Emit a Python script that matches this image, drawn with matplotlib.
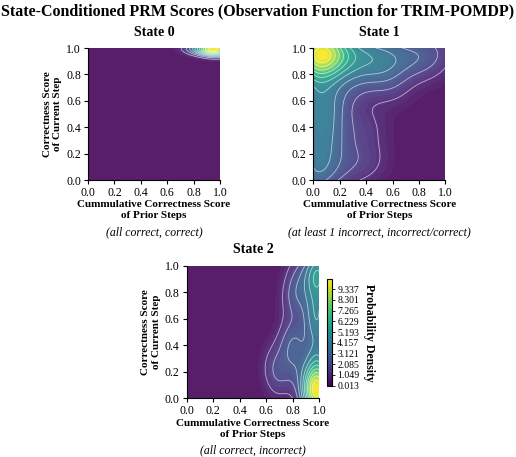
import numpy as np
import matplotlib
matplotlib.use("Agg")
import matplotlib.pyplot as plt
from matplotlib.colors import Normalize, ListedColormap
from matplotlib.cm import ScalarMappable

plt.rcParams["font.family"] = ["Liberation Serif", "DejaVu Serif"]

# observed (prior cumulative score, current step score) pairs per state
state0_x = [1.00, 0.99, 0.98, 0.97, 0.96, 0.95, 0.93, 0.91, 0.88, 0.85, 0.80, 0.99, 0.97, 0.94]
state0_y = [1.00, 0.99, 1.00, 0.98, 1.00, 0.99, 1.00, 0.99, 1.00, 0.99, 1.00, 0.96, 0.97, 0.98]

state1_x = [0.00, 0.02, 0.05, 0.00, 0.08, 0.03, 0.10, 0.00, 0.04, 0.06,
            0.14, 0.20, 0.26, 0.33, 0.40, 0.48, 0.56, 0.65, 0.75, 0.85, 0.94, 0.22,
            0.02, 0.05, 0.00, 0.04, 0.01, 0.06, 0.03, 0.00, 0.07, 0.02, 0.04, 0.00,
            0.20, 0.35, 0.18, 0.25, 0.50, 0.15,
            0.40, 0.42, 0.60]
state1_y = [1.00, 0.98, 1.00, 0.95, 0.97, 0.92, 1.00, 0.90, 0.99, 0.94,
            0.97, 0.93, 0.99, 0.95, 0.97, 0.93, 0.96, 0.92, 0.95, 0.90, 0.99, 0.86,
            0.82, 0.74, 0.66, 0.58, 0.50, 0.42, 0.34, 0.26, 0.18, 0.10, 0.03, 0.00,
            0.65, 0.75, 0.30, 0.10, 0.82, 0.50,
            0.40, 0.15, 0.72]

state2_x = [1.00, 0.98, 0.99, 0.96, 1.00, 0.97, 0.94, 1.00, 0.99, 0.95, 1.00, 0.98,
            0.99, 0.97, 1.00, 0.98, 0.96, 1.00, 0.97, 1.00, 0.98, 1.00, 0.99, 1.00, 1.00,
            0.83, 0.82, 0.84, 0.85, 0.82,
            0.70, 0.76, 0.66, 0.80]
state2_y = [0.00, 0.02, 0.05, 0.00, 0.08, 0.10, 0.03, 0.15, 0.01, 0.06, 0.20, 0.12,
            0.25, 0.35, 0.45, 0.55, 0.65, 0.70, 0.80, 0.88, 0.97, 1.00, 0.93, 0.60, 0.96,
            0.20, 0.50, 0.80, 0.95, 0.35,
            0.15, 0.40, 0.25, 0.75]

bandwidths = [(0.08, 0.03), (0.12, 0.12), (0.07, 0.12)]

titles = ["State 0", "State 1", "State 2"]
captions = ["(all correct, correct)",
            "(at least 1 incorrect, incorrect/correct)",
            "(all correct, incorrect)"]

cbar_ticks = [0.013, 1.049, 2.085, 3.121, 4.157, 5.193, 6.229, 7.265, 8.301, 9.337]
cbar_max = 10.3

# viridis slightly washed out, as in the reference
soft = ListedColormap(plt.cm.viridis(np.linspace(0, 1, 256))[:, :3] * 0.9 + 0.1)


def kde_grid(xs, ys, bw, n=200):
    g = np.linspace(0, 1, n)
    gx, gy = np.meshgrid(g, g)
    xs = np.asarray(xs)[:, None, None]
    ys = np.asarray(ys)[:, None, None]
    hx, hy = bw
    k = np.exp(-0.5 * (((gx - xs) / hx) ** 2 + ((gy - ys) / hy) ** 2))
    dens = k.sum(axis=0) / (len(xs) * 2 * np.pi * hx * hy)
    return gx, gy, dens


fig = plt.figure(figsize=(5.16, 4.57), dpi=100)
positions = [[0.1705, 0.6061, 0.2558, 0.2888],
             [0.6072, 0.6061, 0.2558, 0.2888],
             [0.3618, 0.1284, 0.2568, 0.2900]]
data = [(state0_x, state0_y), (state1_x, state1_y), (state2_x, state2_y)]

for i in range(3):
    ax = fig.add_axes(positions[i])
    gx, gy, d = kde_grid(data[i][0], data[i][1], bandwidths[i])
    lo, hi = d.min(), d.max()
    ax.contourf(gx, gy, d, levels=np.linspace(lo, hi, 40), cmap=soft)
    ax.contour(gx, gy, d, levels=np.linspace(lo, hi, 13)[1:-1],
               colors="white", linewidths=0.6, alpha=0.6)
    ax.set_xlim(0, 1)
    ax.set_ylim(0, 1)
    ax.set_xticks(np.arange(0, 1.01, 0.2))
    ax.set_yticks(np.arange(0, 1.01, 0.2))
    ax.tick_params(labelsize=8.5, length=3, width=0.8, pad=2)
    for s in ["top", "right"]:
        ax.spines[s].set_visible(False)
    ax.set_title(titles[i], fontsize=10, fontweight="bold", pad=9)
    ax.set_xlabel("Cummulative Correctness Score\nof Prior Steps",
                  fontsize=8, fontweight="bold", labelpad=1, linespacing=1.3)
    if i != 1:
        ax.set_ylabel("Correctness Score\nof Current Step",
                      fontsize=8, fontweight="bold", labelpad=3, linespacing=1.2)
    ax.text(0.5, -0.35, captions[i], transform=ax.transAxes, ha="center",
            va="top", fontsize=8.5, style="italic")

cax = fig.add_axes([0.6343, 0.156, 0.0097, 0.2328])
sm = ScalarMappable(norm=Normalize(vmin=0.013, vmax=cbar_max), cmap="viridis")
cb = fig.colorbar(sm, cax=cax, ticks=cbar_ticks)
cb.ax.set_yticklabels([f"{t:.3f}" for t in cbar_ticks])
cb.ax.tick_params(labelsize=7, length=2.5, width=0.6, pad=1)
cb.set_label("Probability Density", fontsize=8.5, fontweight="bold",
             rotation=270, labelpad=11)

fig.suptitle("State-Conditioned PRM Scores (Observation Function for TRIM-POMDP)",
             fontsize=11.5, fontweight="bold", y=0.992)

fig.savefig("out.png", dpi=100)
